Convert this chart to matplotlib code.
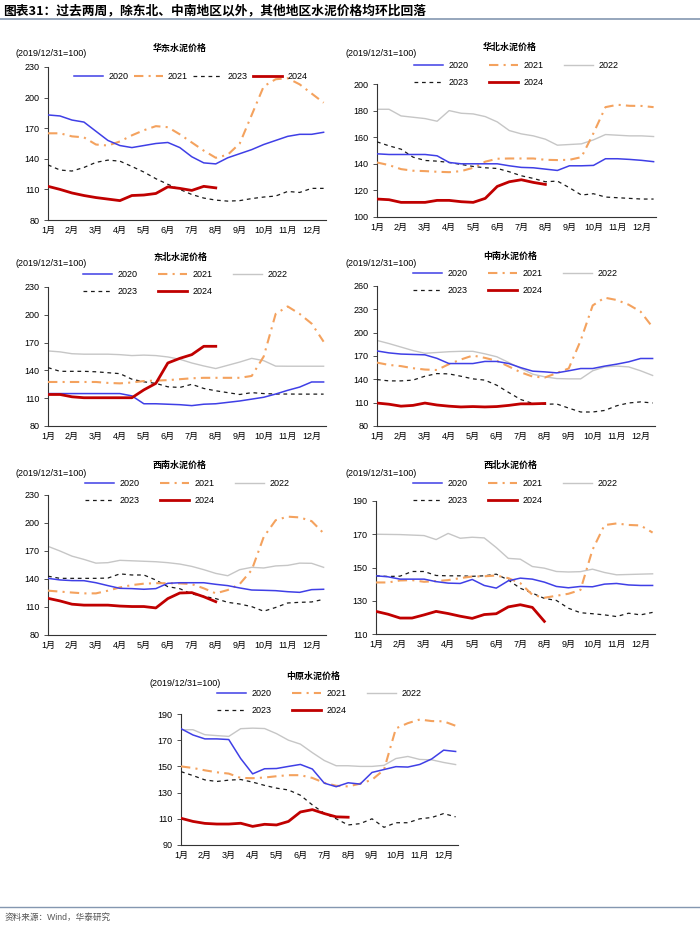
import numpy as np
import matplotlib
matplotlib.use("Agg")
import matplotlib.pyplot as plt
from matplotlib.lines import Line2D

plt.rcParams['font.family'] = ['Liberation Sans', 'Noto Sans CJK SC']

months = ['1月', '2月', '3月', '4月', '5月', '6月', '7月', '8月', '9月', '10月', '11月', '12月']

# 半月一个点 (2019/12/31=100)
# 华东
hd_2020 = [183, 182, 178, 176, 167, 158, 153, 151, 153, 155, 156, 151, 142, 136, 135, 141, 145, 149, 154, 158, 162, 164, 164, 166]
hd_2021 = [165, 165, 162, 161, 154, 153, 157, 163, 168, 172, 171, 164, 156, 148, 141, 144, 155, 183, 211, 218, 219, 213, 204, 195]
hd_2023 = [134, 129, 128, 131.5, 136.5, 138.7, 137.7, 132.5, 127, 120.5, 115, 110, 105, 101.5, 99.5, 98.5, 99, 101, 102.5, 103.5, 108, 107, 111, 111]
hd_2024 = [113, 110, 106.5, 104, 102, 100.5, 99, 104, 104.5, 106, 112.5, 111, 109, 113, 111.5]

# 华北
hb_2020 = [147.5, 147, 147, 147, 147, 146, 141, 140, 140, 140, 140, 138.5, 137.3, 137, 136, 135, 138.5, 138.5, 138.8, 143.8, 143.8, 143.3, 142.6, 141.6]
hb_2021 = [141, 139, 136, 134.8, 134.5, 134, 133.7, 134.5, 137, 141.6, 143.8, 144, 144, 144, 143, 142.8, 143, 145, 163, 182.6, 184.4, 183.6, 183.5, 182.6]
hb_2022 = [181, 181, 176, 175, 174, 172, 180, 178, 177.5, 175.5, 171.5, 165, 162.5, 161, 158.5, 154, 154.5, 155, 158, 162, 161.5, 161, 161, 160.5]
hb_2023 = [156.5, 153.5, 151, 145, 142.5, 142, 141, 139.5, 138, 137, 136.5, 134, 131, 129, 126.5, 127, 122, 116.5, 117.5, 115, 114.5, 114, 113.5, 113.5]
hb_2024 = [113.5, 113, 111, 111, 111, 112.5, 112.5, 111.5, 111, 114, 123, 126.5, 128, 126, 124.5]

# 东北
db_2020 = [115, 115, 115, 115, 115, 115, 115, 112.5, 104, 104, 103.5, 103, 102, 103.5, 104, 105.5, 107, 109, 111, 114.5, 118.5, 122, 127.5, 127.5]
db_2021 = [127.5, 127.5, 127.5, 127.5, 127.5, 126.5, 126, 127, 128.5, 129, 129.5, 130.5, 131.5, 132, 132, 132, 132, 134, 155, 201, 209, 201, 190.5, 171]
db_2022 = [161, 160, 158, 157.5, 157.5, 157.5, 157, 156, 156.5, 156, 154.5, 152, 148, 144.8, 142, 145.5, 149, 153, 150.5, 144.6, 144.5, 144.5, 144.5, 144.5]
db_2023 = [143, 139, 139, 139, 138.5, 137.5, 136.5, 130.5, 127.7, 126, 122.3, 121.6, 125, 120.5, 118, 116, 114, 116, 115, 114.5, 114.5, 114.4, 114.4, 114.4]
db_2024 = [114, 114, 111.5, 110.5, 110.5, 110.5, 110.5, 110.5, 119, 126, 148, 153, 157, 166, 166]

# 中南
zn_2020 = [176.5, 174, 172.5, 172, 171.5, 167, 160.3, 160.3, 160.3, 163, 163, 160.3, 155, 150.5, 149.6, 148.3, 151, 153.9, 153.9, 157, 159.5, 162.5, 166.8, 166.8]
zn_2021 = [161.5, 158.5, 157, 154.3, 152.6, 152, 159.5, 165.5, 170.6, 167.6, 163.8, 156.5, 149, 143.5, 142.3, 148, 154, 190, 235, 245, 242, 236, 227, 207]
zn_2022 = [190, 186, 181.5, 177, 173.5, 174.5, 175.5, 176, 176, 172.8, 169, 161.6, 154, 146.6, 143.2, 141, 140.6, 140.6, 151, 156, 157, 156, 151, 145]
zn_2023 = [139.7, 138, 138, 139, 144, 147.4, 147, 144, 140.6, 139, 132.4, 123, 114, 109, 108, 108.3, 103, 98, 98, 100, 106, 109.6, 111, 109.6]
zn_2024 = [109.5, 108, 105.5, 106.5, 109.5, 107, 105.5, 104.5, 105, 104.5, 105, 106.5, 108.5, 108.5, 109]

# 西南
xn_2020 = [140.7, 139, 138.3, 138.2, 136, 132.9, 130, 129.7, 129, 129.7, 135.4, 136, 136, 136, 134.3, 132.9, 130.4, 128.2, 127.9, 127.5, 126.4, 125.7, 128.6, 129]
xn_2021 = [127.5, 126.5, 125.5, 124.6, 124.6, 127.5, 131, 133.5, 135, 135.5, 135.5, 135.3, 134.5, 130, 124.6, 128.2, 134.6, 149.6, 185, 203, 206.8, 206, 202, 189]
xn_2022 = [175, 170, 164.5, 161, 157, 157.5, 160, 159.5, 159, 158.5, 157.5, 156, 153.5, 150, 146, 143.5, 150, 152.5, 151.8, 154, 154.6, 157, 156.8, 152.5]
xn_2023 = [143, 140.7, 140.7, 140.7, 140.7, 141, 145.5, 144.3, 144.3, 138.9, 131.8, 129.6, 124, 121.4, 119, 115, 113.2, 110.4, 105.5, 109.5, 114.3, 115, 115.4, 118.2]
xn_2024 = [119.3, 116.5, 113, 112, 112, 112, 111, 110.5, 110.5, 109, 119, 125, 125.4, 121, 115.7]

# 西北
xb_2020 = [145, 144.4, 143, 143, 143, 141.5, 140.6, 140.4, 142.8, 139.2, 137.6, 142, 143.6, 143, 141.2, 138.6, 137.8, 138.6, 138.4, 140, 140.4, 139.5, 139.2, 139.2]
xb_2021 = [141, 141, 142.2, 142.4, 141.4, 141.8, 142.4, 143.6, 144.6, 144.7, 145.2, 143.6, 140.6, 133.6, 131.8, 133, 134.2, 136.5, 160.6, 175.5, 176.5, 175.6, 175.3, 171]
xb_2022 = [170, 169.9, 169.8, 169.5, 169.2, 166.8, 170.5, 167.6, 168.2, 167.8, 162, 155.5, 155, 150.6, 149.6, 147.6, 147.3, 147.5, 149, 147, 145.6, 145.8, 146, 146.2]
xb_2023 = [145, 144.6, 144.8, 147.6, 147.6, 145.2, 145, 145, 144.7, 145, 146, 142.5, 137.5, 134.6, 131.4, 130.2, 125.5, 122.8, 122.2, 121.5, 120.5, 122.5, 121.5, 123]
xb_2024 = [123.6, 121.9, 119.6, 119.6, 121.5, 123.6, 122.3, 120.7, 119.4, 121.7, 122.2, 126.3, 127.6, 126, 117.6]

# 中原
zy_2020 = [178.8, 174, 171, 171, 170.5, 156, 144.3, 148.2, 148.4, 150, 151.5, 148, 137.2, 134.5, 137.5, 136.5, 145.4, 147.6, 149.8, 149.5, 151.5, 155.7, 162.4, 161.4]
zy_2021 = [150, 148.8, 147, 145.5, 144.5, 141.2, 141, 141.5, 142.5, 143.3, 143.3, 141.2, 137.5, 135.2, 134.7, 136.8, 139.8, 147.4, 179, 183, 185.8, 184.6, 184.4, 181]
zy_2022 = [178, 178, 174.2, 173.5, 172.9, 178.8, 179.2, 178.9, 175, 170, 167, 160.5, 154.5, 150.5, 150.5, 150, 150, 150.8, 156, 157.6, 155.3, 155, 153, 151.4]
zy_2023 = [146, 143, 139.7, 138.5, 139.5, 140, 138, 135.5, 133.4, 132, 128, 120.6, 114.2, 110, 105.3, 106.3, 110, 103.5, 107, 107, 110, 111, 114, 111.5]
zy_2024 = [110.4, 108, 106.5, 106, 106, 106.6, 104.2, 105.8, 105.3, 108, 115.2, 117, 114, 111.5, 111.2]

styles = {
    '2020': dict(color='#3f3fe6', lw=1.1, zorder=4),
    '2021': dict(color='#f4a25e', lw=1.5, ls=(0, (4.5, 2.5, 1, 2.5)), zorder=3),
    '2022': dict(color='#c6c6c6', lw=1.0, zorder=2),
    '2023': dict(color='#1a1a1a', lw=0.9, ls=(0, (3, 3)), zorder=3),
    '2024': dict(color='#c00000', lw=2.0, zorder=5),
}

# 版面 (像素): 坐标轴 left, top, right, bottom; 图例首个线段起点 x 与第一行 y
panels = [
    dict(title='华东水泥价格', data={'2020': hd_2020, '2021': hd_2021, '2023': hd_2023, '2024': hd_2024},
         rect=(48, 67, 326, 220), yt=np.arange(80, 231, 30), leg=(74, 78), ncol=4, tx=180, ty=48, bx=15, by=53),
    dict(title='华北水泥价格', data={'2020': hb_2020, '2021': hb_2021, '2022': hb_2022, '2023': hb_2023, '2024': hb_2024},
         rect=(377, 84, 656, 217), yt=np.arange(100, 201, 20), leg=(414, 67), ncol=3, tx=510, ty=47, bx=345, by=54),
    dict(title='东北水泥价格', data={'2020': db_2020, '2021': db_2021, '2022': db_2022, '2023': db_2023, '2024': db_2024},
         rect=(48, 287, 326, 426), yt=np.arange(80, 231, 30), leg=(83, 276), ncol=3, tx=180, ty=257, bx=15, by=264),
    dict(title='中南水泥价格', data={'2020': zn_2020, '2021': zn_2021, '2022': zn_2022, '2023': zn_2023, '2024': zn_2024},
         rect=(377, 286, 655, 426), yt=np.arange(80, 261, 30), leg=(413, 275), ncol=3, tx=510, ty=256, bx=345, by=263),
    dict(title='西南水泥价格', data={'2020': xn_2020, '2021': xn_2021, '2022': xn_2022, '2023': xn_2023, '2024': xn_2024},
         rect=(48, 495, 326, 635), yt=np.arange(80, 231, 30), leg=(85, 485), ncol=3, tx=180, ty=465, bx=15, by=474),
    dict(title='西北水泥价格', data={'2020': xb_2020, '2021': xb_2021, '2022': xb_2022, '2023': xb_2023, '2024': xb_2024},
         rect=(376, 501, 655, 634), yt=np.arange(110, 191, 20), leg=(413, 485), ncol=3, tx=510, ty=465, bx=345, by=474),
    dict(title='中原水泥价格', data={'2020': zy_2020, '2021': zy_2021, '2022': zy_2022, '2023': zy_2023, '2024': zy_2024},
         rect=(181, 714, 458, 845), yt=np.arange(90, 191, 20), leg=(217, 695), ncol=3, tx=313, ty=676, bx=149, by=684),
]

W, H = 700, 926
fig = plt.figure(figsize=(W / 100, H / 100), dpi=100)


def fx(x):
    return x / W


def fy(y):
    return 1 - y / H


fs = 6.5
for p in panels:
    l, t, r, b = p['rect']
    ax = fig.add_axes([fx(l), fy(b), (r - l) / W, (b - t) / H])
    order = ['2022', '2023', '2021', '2020', '2024']
    for yr in order:
        if yr in p['data']:
            vals = p['data'][yr]
            ax.plot(np.arange(len(vals)) * 0.5, vals, **styles[yr])
    ax.set_xlim(0, 11.6)
    ax.set_ylim(p['yt'][0], p['yt'][-1])
    ax.set_yticks(p['yt'])
    ax.set_xticks(np.arange(12))
    ax.set_xticklabels(months)
    for s in ['top', 'right']:
        ax.spines[s].set_visible(False)
    for s in ['left', 'bottom']:
        ax.spines[s].set_color('#333333')
        ax.spines[s].set_linewidth(0.8)
    ax.tick_params(axis='y', length=3, width=0.6, pad=3, labelsize=fs, colors='#333333', labelcolor='black')
    ax.tick_params(axis='x', length=0, pad=4, labelsize=fs)

    if p['ncol'] == 4:
        keys = ['2020', '2021', '2023', '2024']
        csp = 0.6
    else:
        keys = ['2020', '2023', '2021', '2024', '2022']
        csp = 2.3
    handles = [Line2D([], [], **{k: v for k, v in styles[k2].items() if k != 'zorder'}) for k2 in keys]
    lx, ly = p['leg']
    ax.legend(handles, keys, ncol=p['ncol'], loc='upper left', bbox_to_anchor=(fx(lx), fy(ly - 6)),
              bbox_transform=fig.transFigure, frameon=False, fontsize=fs, handlelength=3.2,
              handletextpad=0.6, columnspacing=csp, borderpad=0, borderaxespad=0, labelspacing=0.85)

    fig.text(fx(p['tx']), fy(p['ty']), p['title'], ha='center', va='center', fontsize=6.5,
             fontweight='bold', family=['Noto Sans CJK SC'])
    fig.text(fx(p['bx']), fy(p['by']), '(2019/12/31=100)', ha='left', va='center', fontsize=fs)

# 标题与底部来源
fig.text(fx(3), fy(11), '图表31：过去两周，除东北、中南地区以外，其他地区水泥价格均环比回落',
         ha='left', va='center', fontsize=9.2, fontweight='bold', family=['Noto Sans CJK SC'])
fig.add_artist(Line2D([0, 1], [fy(19), fy(19)], transform=fig.transFigure, color='#8497b0', lw=1.2))
fig.add_artist(Line2D([0, 1], [fy(907), fy(907)], transform=fig.transFigure, color='#8497b0', lw=1.0))
fig.text(fx(5), fy(917), '资料来源：Wind，华泰研究', ha='left', va='center', fontsize=6.2, color='#555555')

fig.savefig('out.png', dpi=100)
